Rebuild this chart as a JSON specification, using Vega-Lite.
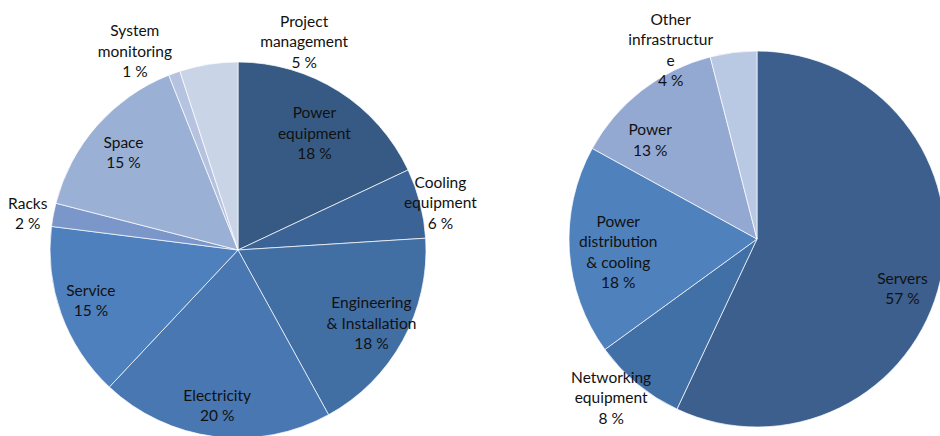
{
  "$schema": "https://vega.github.io/schema/vega-lite/v6.json",
  "padding": 0,
  "spacing": 90,
  "config": {
    "view": {"stroke": null},
    "text": {"font": "Lato", "fontSize": 15.5, "lineBreak": "\n", "lineHeight": 20.5, "align": "center", "baseline": "middle", "color": "#111111"}
  },
  "resolve": {"scale": {"color": "independent", "theta": "independent"}},
  "datasets": {
    "left": [
      {"name": "Power\nequipment", "value": 18},
      {"name": "Cooling\nequipment", "value": 6},
      {"name": "Engineering\n& Installation", "value": 18},
      {"name": "Electricity", "value": 20},
      {"name": "Service", "value": 15},
      {"name": "Racks", "value": 2},
      {"name": "Space", "value": 15},
      {"name": "System\nmonitoring", "value": 1},
      {"name": "Project\nmanagement", "value": 5}
    ],
    "right": [
      {"name": "Servers", "value": 57},
      {"name": "Networking\nequipment", "value": 8},
      {"name": "Power\ndistribution\n& cooling", "value": 18},
      {"name": "Power", "value": 13},
      {"name": "Other\ninfrastructur\ne", "value": 4}
    ]
  },
  "hconcat": [
    {
      "width": 476,
      "height": 500,
      "data": {"name": "left"},
      "transform": [
        {"window": [{"op": "row_number", "as": "i"}]},
        {"stack": "value", "groupby": [], "sort": [{"field": "i", "order": "ascending"}], "as": ["v0", "v1"]},
        {"calculate": "(datum.v0 + datum.v1) / 2", "as": "mid"},
        {"calculate": "datum.name + '\\n' + datum.value + ' %'", "as": "label"}
      ],
      "encoding": {
        "theta": {"field": "mid", "type": "quantitative", "stack": null, "scale": {"domain": [0, 100]}},
        "text": {"field": "label"}
      },
      "layer": [
        {
          "mark": {"type": "arc", "radius": 188, "stroke": "white", "strokeWidth": 0.7},
          "encoding": {
            "theta": {"field": "v0", "type": "quantitative", "stack": null, "scale": {"domain": [0, 100]}},
            "theta2": {"field": "v1"},
            "text": null,
            "color": {
              "field": "name", "type": "nominal", "legend": null,
              "scale": {
                "domain": ["Power\nequipment", "Cooling\nequipment", "Engineering\n& Installation", "Electricity", "Service", "Racks", "Space", "System\nmonitoring", "Project\nmanagement"],
                "range": ["#365a84", "#3c6396", "#416ea3", "#4877b1", "#4e80bd", "#7b97c9", "#9bb0d5", "#b5c3e0", "#cad4e7"]
              }
            }
          }
        },
        {"transform": [{"filter": {"field": "name", "equal": "Power\nequipment"}}], "mark": {"type": "text", "radius": 150, "dx": -4, "dy": -10}},
        {"transform": [{"filter": {"field": "name", "equal": "Cooling\nequipment"}}], "mark": {"type": "text", "radius": 210, "dx": -1, "dy": -15}},
        {"transform": [{"filter": {"field": "name", "equal": "Engineering\n& Installation"}}], "mark": {"type": "text", "radius": 150, "dx": 2, "dy": -19}},
        {"transform": [{"filter": {"field": "name", "equal": "Electricity"}}], "mark": {"type": "text", "radius": 150, "dx": -2, "dy": -3}},
        {"transform": [{"filter": {"field": "name", "equal": "Service"}}], "mark": {"type": "text", "radius": 150, "dx": -6, "dy": -10}},
        {"transform": [{"filter": {"field": "name", "equal": "Racks"}}], "mark": {"type": "text", "radius": 210, "dx": -4, "dy": -7}},
        {"transform": [{"filter": {"field": "name", "equal": "Space"}}], "mark": {"type": "text", "radius": 150, "dx": -2, "dy": -8}},
        {"transform": [{"filter": {"field": "name", "equal": "System\nmonitoring"}}], "mark": {"type": "text", "radius": 210, "dx": -32, "dy": -21}},
        {"transform": [{"filter": {"field": "name", "equal": "Project\nmanagement"}}], "mark": {"type": "text", "radius": 210, "dx": 99, "dy": -21}}
      ]
    },
    {
      "width": 380,
      "height": 478,
      "data": {"name": "right"},
      "transform": [
        {"window": [{"op": "row_number", "as": "i"}]},
        {"stack": "value", "groupby": [], "sort": [{"field": "i", "order": "ascending"}], "as": ["v0", "v1"]},
        {"calculate": "(datum.v0 + datum.v1) / 2", "as": "mid"},
        {"calculate": "datum.name + '\\n' + datum.value + ' %'", "as": "label"}
      ],
      "encoding": {
        "theta": {"field": "mid", "type": "quantitative", "stack": null, "scale": {"domain": [0, 100]}},
        "text": {"field": "label"}
      },
      "layer": [
        {
          "mark": {"type": "arc", "radius": 188, "stroke": "white", "strokeWidth": 0.7},
          "encoding": {
            "theta": {"field": "v0", "type": "quantitative", "stack": null, "scale": {"domain": [0, 100]}},
            "theta2": {"field": "v1"},
            "text": null,
            "color": {
              "field": "name", "type": "nominal", "legend": null,
              "scale": {
                "domain": ["Servers", "Networking\nequipment", "Power\ndistribution\n& cooling", "Power", "Other\ninfrastructur\ne"],
                "range": ["#3c5f8e", "#4170a7", "#4f81bd", "#94a9d1", "#b9c8e3"]
              }
            }
          }
        },
        {"transform": [{"filter": {"field": "name", "equal": "Servers"}}], "mark": {"type": "text", "radius": 150, "dx": -1, "dy": 7}},
        {"transform": [{"filter": {"field": "name", "equal": "Networking\nequipment"}}], "mark": {"type": "text", "radius": 210, "dx": -12, "dy": -23}},
        {"transform": [{"filter": {"field": "name", "equal": "Power\ndistribution\n& cooling"}}], "mark": {"type": "text", "radius": 140, "dx": 1, "dy": -26}},
        {"transform": [{"filter": {"field": "name", "equal": "Power"}}], "mark": {"type": "text", "radius": 140, "dx": -21, "dy": 2}},
        {"transform": [{"filter": {"field": "name", "equal": "Other\ninfrastructur\ne"}}], "mark": {"type": "text", "radius": 210, "dx": -60, "dy": -11}}
      ]
    }
  ]
}
